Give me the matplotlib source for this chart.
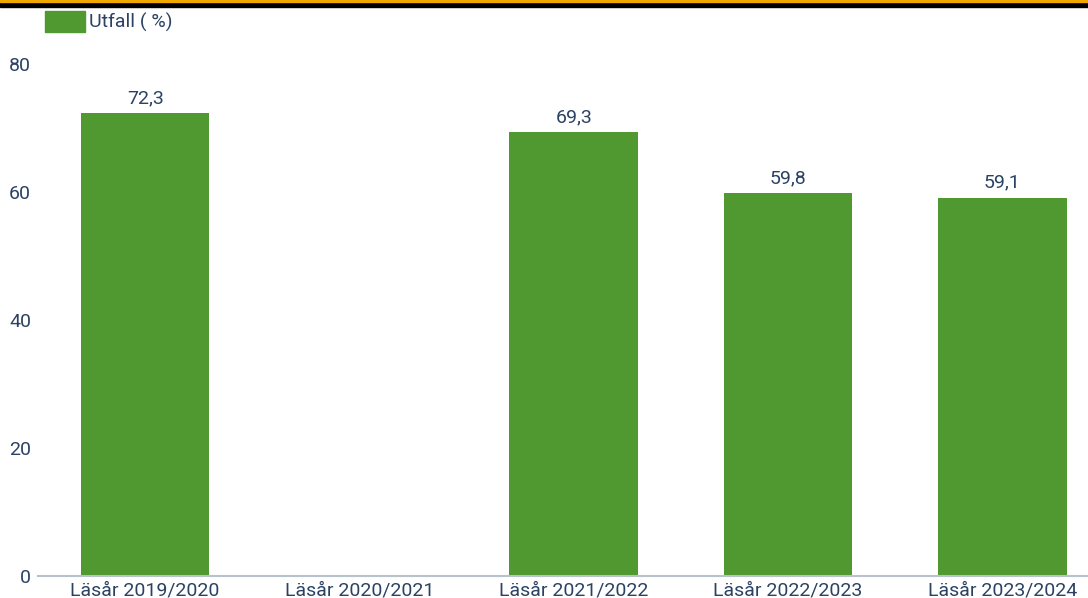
import matplotlib.pyplot as plt
import matplotlib.patches as mpatches

categories = ['Läsår 2019/2020', 'Läsår 2020/2021', 'Läsår 2021/2022',
              'Läsår 2022/2023', 'Läsår 2023/2024']
values = [72.3, None, 69.3, 59.8, 59.1]
labels = ['72,3', '', '69,3', '59,8', '59,1']
yticks = [0, 20, 40, 60, 80]

green = '#509830'
txt = '#2b4263'

plt.rcParams['font.family'] = ['Roboto', 'DejaVu Sans']

fig = plt.figure(figsize=(10.88, 5.98), dpi=100)
ax = fig.add_axes([38 / 1088, 22 / 598, 1 - 38 / 1088, (576 - 64) / 598])

x = list(range(len(categories)))
for xi, v, lab in zip(x, values, labels):
    if v is None:
        continue
    ax.bar(xi, v, width=0.6, color=green, zorder=2)
    ax.text(xi, v + 1.0, lab, ha='center', va='bottom', fontsize=14, color=txt)

ax.set_ylim(0, 80)
ax.set_xlim(-0.5, 4.40)
ax.set_xticks(x)
ax.set_xticklabels(categories, fontsize=14, color=txt)
ax.set_yticks(yticks)
ax.set_yticklabels([str(t) for t in yticks], fontsize=14, color=txt)
ax.tick_params(axis='both', length=0)
ax.tick_params(axis='x', pad=4)
ax.tick_params(axis='y', pad=5)
for s in ['top', 'right', 'left']:
    ax.spines[s].set_visible(False)
ax.spines['bottom'].set_color('#b8c2cc')
ax.spines['bottom'].set_linewidth(1.5)

# legend
fig.patches.append(mpatches.Rectangle((45 / 1088, 1 - 32 / 598), 40 / 1088, 21 / 598,
                                      transform=fig.transFigure, color=green))
fig.text(89 / 1088, 1 - 22 / 598, 'Utfall ( %)', fontsize=14, color=txt, va='center')

# top border
fig.patches.append(mpatches.Rectangle((0, 1 - 7 / 598), 1, 6 / 598,
                                      transform=fig.transFigure, color='black'))
fig.patches.append(mpatches.Rectangle((0, 1 - 1.5 / 598), 1, 1.5 / 598,
                                      transform=fig.transFigure, color='#f0a800'))

fig.savefig('out.png', dpi=100)
